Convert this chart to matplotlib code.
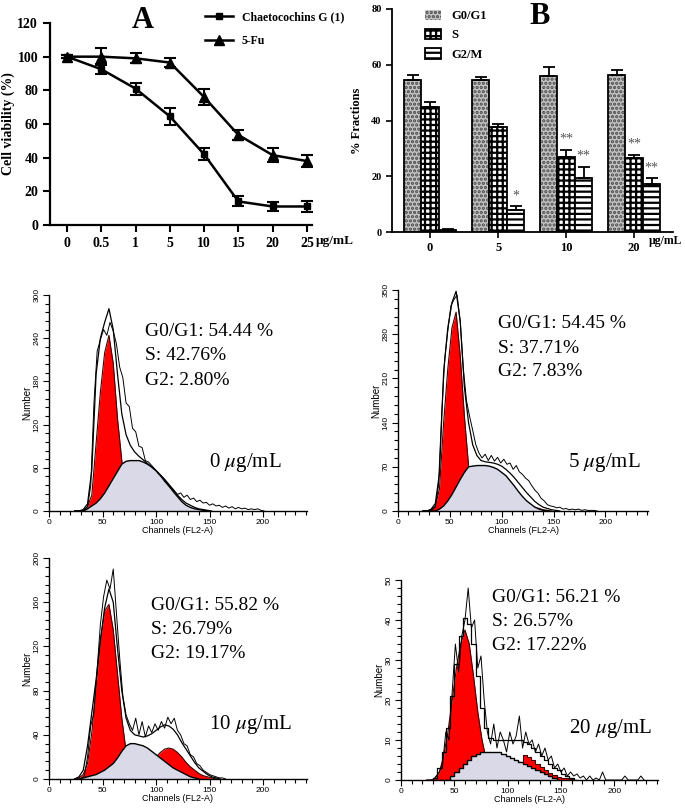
import numpy as np
import matplotlib

matplotlib.use("Agg")
import matplotlib.pyplot as plt
from matplotlib.lines import Line2D
from matplotlib.ticker import MultipleLocator

plt.rcParams["font.family"] = ["Liberation Serif", "DejaVu Serif"]
plt.rcParams["mathtext.fontset"] = "stix"
plt.rcParams["hatch.linewidth"] = 1.6

# ---- panel A: cell viability ----
DOSE_LABELS = ["0", "0.5", "1", "5", "10", "15", "20", "25"]
CHAETO = [100, 92.5, 81, 64.5, 42, 14, 11, 11]
CHAETO_ERR = [1, 3, 3.5, 5, 3.5, 3, 2.5, 3]
FU = [100, 100, 99, 96.5, 76, 53.5, 41.5, 38]
FU_ERR = [1, 5, 3, 2.5, 5, 3, 4, 3.5]

# ---- panel B: cell cycle fractions ----
CONC_LABELS = ["0", "5", "10", "20"]
G0G1 = [54.5, 54.7, 55.8, 56.3]
G0G1_ERR = [1.8, 1.0, 3.3, 1.8]
S_PH = [44.8, 37.8, 27.0, 26.5]
S_PH_ERR = [1.7, 1.0, 2.5, 1.2]
G2M = [0.8, 8.0, 19.3, 17.2]
G2M_ERR = [0.4, 1.2, 4.0, 2.0]

# ---- flow histograms (channel grids: fits start at 24 step 4, G2 at 88, raw at 30 step 3) ----
FIT_START, FIT_STEP = 24, 4
G2_START = 88
RAW_START, RAW_STEP = 30, 3

H0_G1 = [0, 0, 1, 6, 22, 94, 165, 220, 244, 205, 128, 70, 30, 10, 3, 1, 0]
H0_S = [0, 0, 0, 3, 7, 11, 17, 25, 35, 45, 55, 65, 69, 70, 70, 70, 68, 65, 61, 56,
        50, 43, 35, 27, 20, 13, 8, 5, 3, 2, 1, 0]
H0_G2 = [0, 0, 1, 2, 3, 4, 4, 4, 3, 2, 2, 1, 1, 0]
H0_FIT = [0, 0, 2, 10, 57, 190, 240, 262, 281, 252, 190, 135, 106, 91, 82, 76, 71, 66,
          61, 56, 50, 44, 37, 30, 22, 16, 11, 8, 5, 3, 2, 1, 0]
H0_RAW = [0, 1, 6, 35, 150, 222, 238, 252, 244, 262, 250, 232, 200, 185, 150, 145, 115,
          110, 90, 88, 70, 68, 63, 58, 52, 47, 41, 36, 31, 28, 23, 25, 19, 22, 16, 18, 13,
          15, 11, 12, 8, 10, 7, 8, 5, 7, 4, 6, 3, 5, 3, 4, 2, 3, 2, 3, 1, 0]

H5_G1 = [0, 0, 2, 8, 35, 140, 225, 290, 315, 245, 150, 72, 30, 10, 3, 0]
H5_S = [0, 0, 0, 0, 3, 8, 16, 26, 38, 50, 61, 70, 71, 72, 72, 72, 71, 69, 66, 61, 56,
        48, 40, 31, 23, 16, 11, 6, 3, 1, 0]
H5_G2 = [0, 1, 2, 3, 5, 7, 8, 9, 9, 8, 7, 6, 4, 2, 1, 0]
H5_FIT = [0, 0, 3, 12, 60, 220, 290, 330, 348, 300, 196, 140, 105, 88, 80, 78, 77, 76,
          74, 71, 66, 60, 53, 45, 37, 29, 22, 15, 10, 6, 4, 2, 1, 0]
H5_RAW = [0, 2, 6, 40, 150, 240, 285, 325, 335, 342, 300, 225, 175, 150, 128, 105, 92,
          84, 90, 80, 88, 79, 85, 76, 82, 74, 76, 66, 72, 62, 58, 52, 48, 40, 33, 28, 20,
          16, 10, 8, 7, 5, 6, 3, 4, 2, 3, 2, 3, 1, 2, 1, 1, 1, 0]

H10_G1 = [0, 1, 4, 14, 42, 85, 125, 152, 158, 135, 95, 55, 25, 9, 3, 1, 0]
H10_S = [0, 0, 1, 2, 3, 4, 6, 8, 11, 14, 19, 25, 30, 32, 32, 31, 30, 28, 25, 22, 19,
         16, 13, 10, 8, 6, 4, 2, 1, 0]
H10_G2 = [3, 8, 14, 20, 24, 27, 28, 27, 24, 20, 15, 11, 8, 5, 3, 2, 1, 0]
H10_FIT = [0, 2, 8, 30, 60, 90, 125, 155, 172, 160, 118, 80, 55, 44, 40, 39, 38, 39, 41,
           44, 47, 49, 48, 45, 40, 33, 27, 21, 15, 10, 7, 4, 2, 1, 0]
H10_RAW = [0, 3, 20, 48, 60, 100, 140, 165, 180, 172, 190, 150, 110, 75, 58, 50, 44, 55,
           40, 52, 38, 48, 42, 50, 44, 52, 46, 56, 50, 55, 44, 40, 32, 30, 22, 20, 14, 12,
           8, 6, 4, 3, 2, 1, 1, 0]

H20_G1 = [0, 0, 0.3, 2, 6, 12, 20, 28, 34, 37.5, 34, 26, 17, 10, 5, 2, 1, 0]
H20_S = [0, 0, 0, 0, 0, 0, 1, 2, 3, 4, 5, 6, 6.5, 7, 7, 7, 7, 7, 6.5, 6, 5.5, 5, 4.5, 4,
         3.5, 3, 2.5, 2, 1.5, 1, 0.5, 0]
H20_G2 = [0, 1, 1.5, 2, 3, 4, 4.5, 6.2, 5.8, 5, 4, 3.3, 2.5, 1.8, 1.3, 0.8, 0.6, 0.4, 0.2, 0]
H20_FIT = [0, 0, 0.5, 3, 7, 13, 21, 29, 36, 40.5, 39, 34, 26, 18, 13, 10.5, 10, 10, 10,
           10, 10, 10, 10, 9.5, 9, 8, 7, 6, 5, 4, 3, 2.5, 1.5, 1, 0.5, 0]
H20_RAW = [0, 1, 2, 4, 12, 10, 22, 34, 27, 36, 40, 48, 38, 40, 28, 31, 20, 12, 9, 14, 8,
           12, 10, 7, 12, 9, 11, 16, 8, 12, 9, 10, 7, 9, 6, 8, 5, 6, 3, 4, 2, 3, 1, 2, 1,
           1.5, 0.5, 1, 0, 1, 0, 0.5, 0, 2, 0, 0, 0, 0, 0, 0, 1, 0, 0, 0, 0, 1, 0]

STATS = [
    ("G0/G1: 54.44 %", "S: 42.76%", "G2: 2.80%"),
    ("G0/G1: 54.45 %", "S: 37.71%", "G2: 7.83%"),
    ("G0/G1: 55.82 %", "S: 26.79%", "G2: 19.17%"),
    ("G0/G1: 56.21 %", "S: 26.57%", "G2: 17.22%"),
]
DOSE_TEXT = [r"0 $\mu$g/mL", r"5 $\mu$g/mL", r"10 $\mu$g/mL", r"20 $\mu$g/mL"]

W, H = 685, 809
fig = plt.figure(figsize=(W / 100, H / 100), dpi=100)


def px_axes(left, top, right, bottom):
    return fig.add_axes([left / W, 1 - bottom / H, (right - left) / W, (bottom - top) / H])


def ftext(x, y, s, **kw):
    fig.text(x / W, 1 - y / H, s, **kw)


def chan(start, step, arr):
    return start + step * np.arange(len(arr))


# ================= panel A =================
axA = px_axes(50, 23, 312, 225)
xa = np.arange(len(DOSE_LABELS))
axA.errorbar(xa, CHAETO, yerr=CHAETO_ERR, color="black", marker="s", ms=5, lw=1.8,
             elinewidth=1.5, capsize=4, capthick=1.5)
axA.errorbar(xa, FU, yerr=FU_ERR, color="black", marker="^", ms=6.5, lw=1.8,
             elinewidth=1.5, capsize=4, capthick=1.5)
axA.set_xlim(-0.5, 7.15)
axA.set_ylim(0, 120)
axA.set_yticks(range(0, 121, 20))
axA.set_xticks(xa)
axA.set_xticklabels(DOSE_LABELS)
for sp in ("top", "right"):
    axA.spines[sp].set_visible(False)
for sp in ("left", "bottom"):
    axA.spines[sp].set_linewidth(1.6)
axA.tick_params(direction="out", length=5, width=1.5, labelsize=10)
for lab in axA.get_xticklabels() + axA.get_yticklabels():
    lab.set_fontweight("bold")
axA.set_ylabel("Cell viability (%)", fontsize=10, fontweight="bold", labelpad=2)
handles = [Line2D([], [], color="black", marker="s", ms=5, lw=1.8),
           Line2D([], [], color="black", marker="^", ms=6.5, lw=1.8)]
fig.legend(handles, ["Chaetocochins G (1)", "5-Fu"], loc="upper left",
           bbox_to_anchor=(205 / W, 1 - 11 / H), frameon=False,
           prop={"weight": "bold", "size": 8.5}, handlelength=2.4, handletextpad=0.7,
           labelspacing=1.0, borderaxespad=0, borderpad=0)
ftext(143, 20, "A", fontsize=22, fontweight="bold", ha="center", va="center")
ftext(316, 241, "µg/mL", fontsize=9.5, fontweight="bold", ha="left", va="center")

# ================= panel B =================
axB = px_axes(392, 9, 673, 232)
xb = np.arange(len(CONC_LABELS))
bw = 0.257
err_kw = dict(elinewidth=1.3, capthick=1.3, capsize=4, ecolor="black")
zeros = np.zeros(len(xb))
# G0/G1: grey dotted texture, hatch drawn in dark grey, black outline on top
axB.bar(xb - bw, G0G1, bw, facecolor="#c4c4c4", edgecolor="#4a4a4a", hatch="....",
        linewidth=0, label="G0/G1")
axB.bar(xb - bw, G0G1, bw, yerr=[zeros, G0G1_ERR], facecolor="none", edgecolor="black",
        linewidth=1.3, error_kw=err_kw)
axB.bar(xb, S_PH, bw, yerr=[zeros, S_PH_ERR], facecolor="white", hatch="+++",
        edgecolor="black", linewidth=1.3, error_kw=err_kw, label="S")
axB.bar(xb + bw, G2M, bw, yerr=[zeros, G2M_ERR], facecolor="white", hatch="---",
        edgecolor="black", linewidth=1.3, error_kw=err_kw, label="G2/M")
axB.set_xlim(-0.56, 3.57)
axB.set_ylim(0, 80)
axB.set_yticks(range(0, 81, 20))
axB.set_xticks(xb)
axB.set_xticklabels(CONC_LABELS)
for sp in ("top", "right"):
    axB.spines[sp].set_visible(False)
for sp in ("left", "bottom"):
    axB.spines[sp].set_linewidth(1.3)
axB.tick_params(axis="y", direction="out", length=4, width=1.2, labelsize=7.5)
axB.tick_params(axis="x", direction="out", length=4, width=1.2, labelsize=9)
for lab in axB.get_xticklabels() + axB.get_yticklabels():
    lab.set_fontweight("bold")
axB.set_ylabel("% Fractions", fontsize=9, fontweight="bold", labelpad=6)
axB.legend(loc="upper left", bbox_to_anchor=(0.1, 1.02), frameon=False,
           prop={"weight": "bold", "size": 9}, handlelength=1.3, handleheight=0.9,
           labelspacing=0.55, borderaxespad=0)
stars = [(1, bw, G2M[1] + G2M_ERR[1], "*"),
         (2, 0, S_PH[2] + S_PH_ERR[2], "**"), (2, bw, G2M[2] + G2M_ERR[2], "**"),
         (3, 0, S_PH[3] + S_PH_ERR[3], "**"), (3, bw, G2M[3] + G2M_ERR[3], "**")]
for gi, off, top, s in stars:
    axB.text(xb[gi] + off, top + 1.5, s, ha="center", va="bottom", fontsize=10,
             color="#555555")
ftext(540, 16, "B", fontsize=22, fontweight="bold", ha="center", va="center")
ftext(649, 241, "µg/mL", fontsize=8.5, fontweight="bold", ha="left", va="center")

# ================= histograms =================
SANS = ["Liberation Sans", "DejaVu Sans"]


def hist_panel(ax, g1, s, g2, fit, raw, ymax, ymajor, stepped=False):
    xf = chan(FIT_START, FIT_STEP, g1)
    xs = chan(FIT_START, FIT_STEP, s)
    x2 = chan(G2_START, FIT_STEP, g2)
    xft = chan(FIT_START, FIT_STEP, fit)
    xr = chan(RAW_START, RAW_STEP, raw)
    step = "mid" if stepped else None
    ds = "steps-mid" if stepped else "default"
    ax.fill_between(xf, g1, color="#ff0000", lw=0, zorder=1)
    ax.plot(xf, g1, color="#400000", lw=0.8, zorder=1.1)
    ax.fill_between(x2, g2, color="#ff0000", lw=0, step=step, zorder=1.2)
    ax.plot(x2, g2, color="#400000", lw=0.8, drawstyle=ds, zorder=1.3)
    ax.fill_between(xs, s, facecolor="#d9d9e8", lw=0, step=step, zorder=2)
    ax.plot(xs, s, color="black", lw=1.0, drawstyle=ds, zorder=2.1)
    ax.plot(xft, fit, color="black", lw=0.9, drawstyle=ds, zorder=3)
    ax.plot(xr, raw, color="black", lw=0.7, zorder=3.1)
    ax.set_xlim(0, 241)
    ax.set_ylim(0, ymax)
    ax.xaxis.set_major_locator(MultipleLocator(50))
    ax.xaxis.set_minor_locator(MultipleLocator(10))
    ax.yaxis.set_major_locator(MultipleLocator(ymajor))
    ax.yaxis.set_minor_locator(MultipleLocator(ymajor / 5))
    ax.set_xticks([0, 50, 100, 150, 200])
    for sp in ("top", "right"):
        ax.spines[sp].set_visible(False)
    for sp in ("left", "bottom"):
        ax.spines[sp].set_linewidth(1.0)
    ax.tick_params(which="both", direction="out", width=0.8, labelsize=6, pad=2)
    ax.tick_params(which="major", length=4)
    ax.tick_params(which="minor", length=3)
    ax.tick_params(axis="y", labelrotation=90)
    for lab in ax.get_xticklabels() + ax.get_yticklabels():
        lab.set_family(SANS)
    for lab in ax.get_yticklabels():
        lab.set_va("center")
    ax.set_xlabel("Channels (FL2-A)", family=SANS, fontsize=6.5, labelpad=0)
    ax.set_ylabel("Number", family=SANS, fontsize=7, labelpad=1)


h1 = px_axes(49, 295, 307, 511)
hist_panel(h1, H0_G1, H0_S, H0_G2, H0_FIT, H0_RAW, 300, 60)
h2 = px_axes(398, 290, 648, 511)
hist_panel(h2, H5_G1, H5_S, H5_G2, H5_FIT, H5_RAW, 350, 70)
h3 = px_axes(49, 558, 307, 779)
hist_panel(h3, H10_G1, H10_S, H10_G2, H10_FIT, H10_RAW, 200, 40)
h4 = px_axes(401, 580, 658, 780)
hist_panel(h4, H20_G1, H20_S, H20_G2, H20_FIT, H20_RAW, 50, 10, stepped=True)

stat_pos = [(145, 332), (498, 324), (151, 606), (492, 598)]
dose_pos = [(209, 462), (568, 463), (209, 725), (569, 728)]
for (x, y), lines in zip(stat_pos, STATS):
    for i, line in enumerate(lines):
        ftext(x, y + i * 24, line, fontsize=14, ha="left", va="center")
for (x, y), s in zip(dose_pos, DOSE_TEXT):
    ftext(x, y, s, fontsize=15, ha="left", va="center")

fig.savefig("out.png", dpi=100)
